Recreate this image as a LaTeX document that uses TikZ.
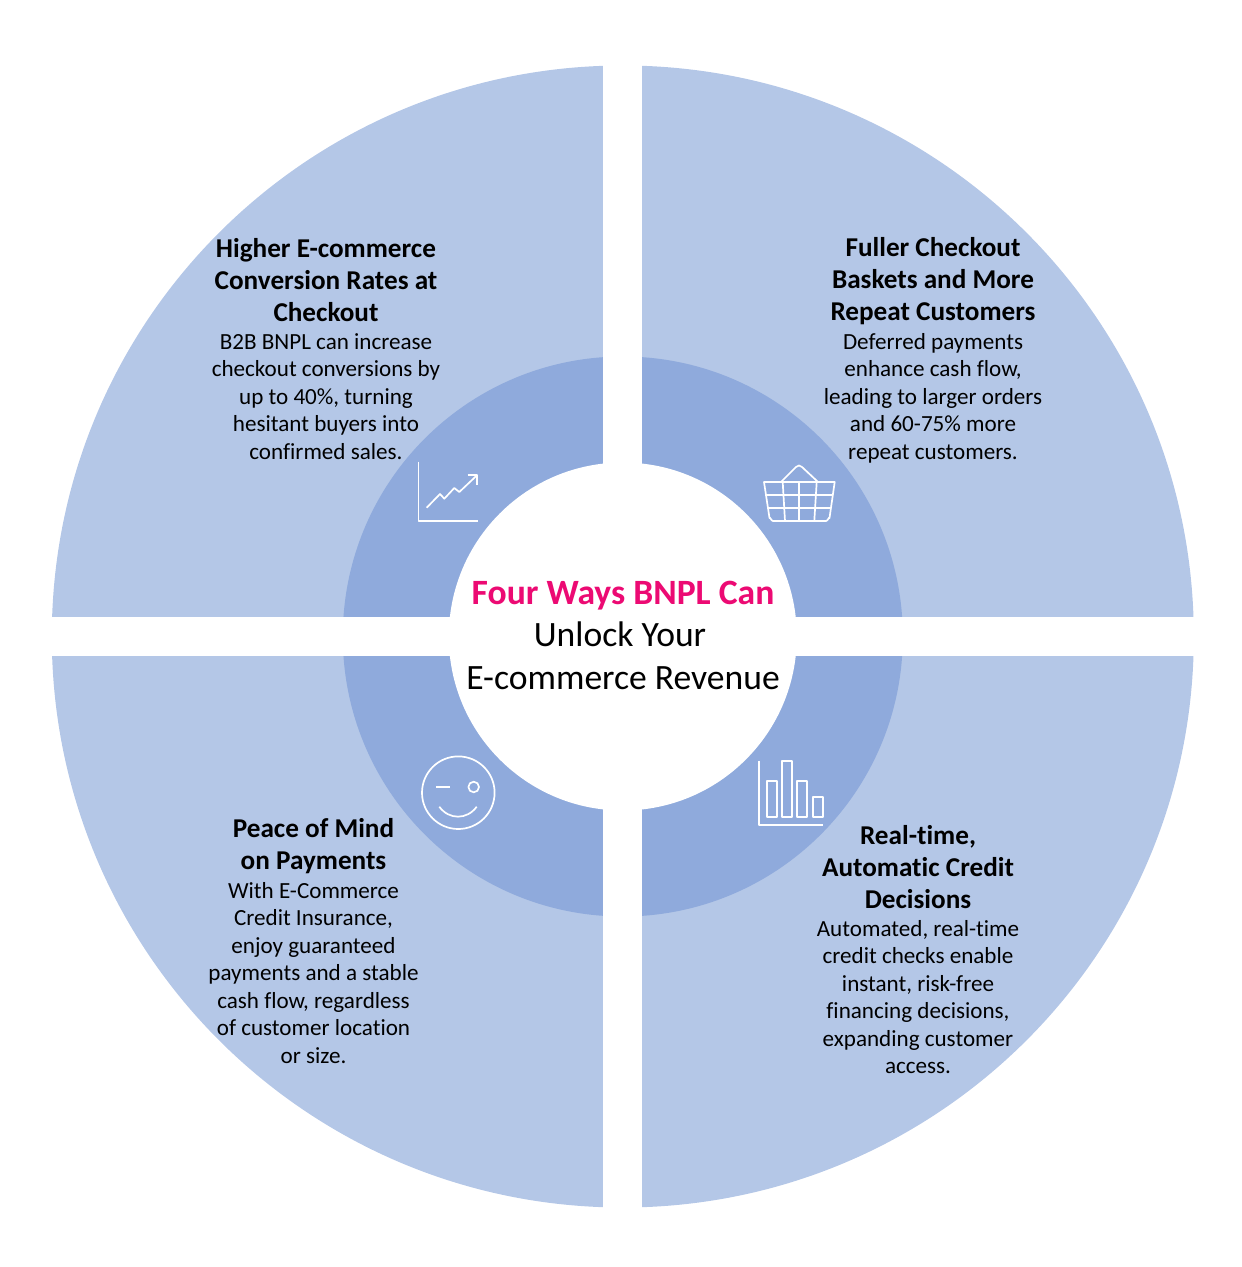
\documentclass[tikz,border=0pt]{standalone}
\usepackage{fontspec}
\setmainfont[Ligatures=NoCommon]{Carlito}
\usetikzlibrary{positioning}
\definecolor{ringlight}{RGB}{180, 199, 231}
\definecolor{ringmid}{RGB}{143, 170, 220}
\definecolor{titlepink}{RGB}{236, 10, 115}
\tikzset{
    headtext/.style={align=center, inner sep=0pt, font=\fontsize{27.2}{32.3}\selectfont\bfseries},
    bodytext/.style={align=center, inner sep=0pt, font=\fontsize{23.1}{27.5}\selectfont},
    hubtext/.style={align=center, inner sep=0pt, font=\fontsize{35.6}{42.5}\selectfont},
    iconline/.style={draw=white, line width=1.7pt, line join=round}
}
\begin{document}
\begin{tikzpicture}[x=1pt, y=-1pt]
    \useasboundingbox (0,0) rectangle (1242,1267);

    % Rings
    \fill[ringlight] (622.8,636.5) circle[radius=571];
    \fill[ringmid] (622.8,636.5) circle[radius=280];
    \fill[white] (622.8,636.5) circle[radius=174];

    % Gaps between the quarters
    \fill[white] (603,50) rectangle (642,1225);
    \fill[white] (35,617) rectangle (1210,656);

    % Top left
    \node[headtext] (headtl) at (326,280) {Higher E-commerce\\Conversion Rates at\\Checkout};
    \node[bodytext, below=11pt of headtl] (bodytl) {B2B BNPL can increase\\checkout conversions by\\up to 40\%, turning\\hesitant buyers into\\confirmed sales.};

    % Top right
    \node[headtext] (headtr) at (933,281) {Fuller Checkout\\Baskets and More\\Repeat Customers};
    \node[bodytext, below=8pt of headtr] (bodytr) {Deferred payments\\enhance cash flow,\\leading to larger orders\\and 60-75\% more\\repeat customers.};

    % Bottom left
    \node[headtext] (headbl) at (313.5,846) {Peace of Mind\\on Payments};
    \node[bodytext, below=8pt of headbl] (bodybl) {With E-Commerce\\Credit Insurance,\\enjoy guaranteed\\payments and a stable\\cash flow, regardless\\of customer location\\or size.};

    % Bottom right
    \node[headtext] (headbr) at (918,867) {Real-time,\\Automatic Credit\\Decisions};
    \node[bodytext, below=11pt of headbr] (bodybr) {Automated, real-time\\credit checks enable\\instant, risk-free\\financing decisions,\\expanding customer\\access.};

    % Centre
    \node[hubtext] (hub) at (623,635) {\textcolor{titlepink}{\textbf{Four Ways BNPL Can}}\\\hspace*{-6pt}Unlock Your\\E-commerce Revenue};

    % Chart icon
    \draw[iconline] (418.5,461.5) -- (418.5,521) -- (478,521);
    \draw[iconline] (426.7,507.7) -- (440,494) -- (444.3,498.7) -- (454.3,488) -- (459.3,492) -- (477.3,475);
    \draw[iconline] (467.7,475) -- (477.3,475) -- (477.3,485);

    % Basket icon
    \draw[iconline] (764,482) -- (834.7,482) -- (829.5,518) to[out=100,in=0] (826,521) -- (773,521) to[out=180,in=80] (769.5,518) -- cycle;
    \draw[iconline] (781.7,481.3) -- (796,467) .. controls (798,465) and (800,465) .. (802,467) -- (817.3,481.3);
    \draw[iconline] (766,495) -- (832.7,495);
    \draw[iconline] (767.5,508.3) -- (831,508.3);
    \draw[iconline] (782.7,482) -- (785,521);
    \draw[iconline] (799.3,482) -- (799.3,521);
    \draw[iconline] (816.7,482) -- (814.3,521);

    % Smiley icon
    \draw[iconline] (458.3,792.7) circle[radius=36.3];
    \draw[iconline] (436,787) -- (450,787);
    \draw[iconline] (473.7,787) circle[radius=5.3];
    \draw[iconline] (439.3,806.7) .. controls (449,820) and (467,820) .. (476.7,806.7);

    % Bars icon
    \draw[iconline] (759,760.7) -- (759,824.7) -- (823.3,824.7);
    \draw[iconline] (767,781.3) rectangle (777,816.7);
    \draw[iconline] (782,761.3) rectangle (792,816.7);
    \draw[iconline] (797.3,781.3) rectangle (807.3,816.7);
    \draw[iconline] (812.7,797.3) rectangle (822.7,816.7);
\end{tikzpicture}
\end{document}
